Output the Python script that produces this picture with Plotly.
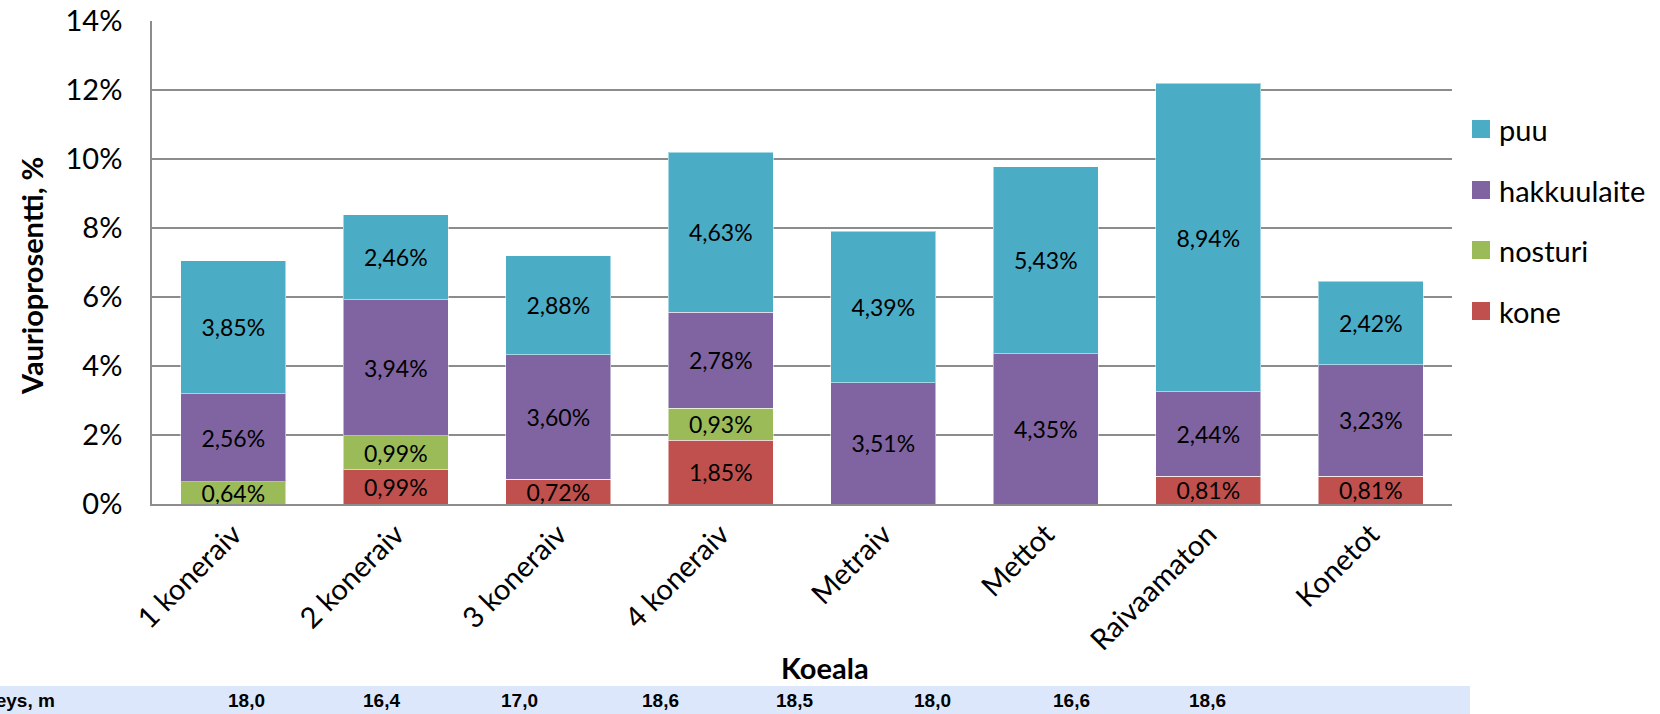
import plotly.graph_objects as go

# Koealat ja vauriot vauriotyypeittäin (%)
categories = ["1 koneraiv", "2 koneraiv", "3 koneraiv", "4 koneraiv",
              "Metraiv", "Mettot", "Raivaamaton", "Konetot"]
kone = [0.00, 0.99, 0.72, 1.85, 0.00, 0.00, 0.81, 0.81]
nosturi = [0.64, 0.99, 0.00, 0.93, 0.00, 0.00, 0.00, 0.00]
hakkuulaite = [2.56, 3.94, 3.60, 2.78, 3.51, 4.35, 2.44, 3.23]
puu = [3.85, 2.46, 2.88, 4.63, 4.39, 5.43, 8.94, 2.42]

series_names = ["kone", "nosturi", "hakkuulaite", "puu"]
series_values = [kone, nosturi, hakkuulaite, puu]
series_colors = ["#C0504D", "#9BBB59", "#8064A2", "#4BACC6"]

y_ticks = [0, 2, 4, 6, 8, 10, 12, 14]
y_tick_labels = ["0%", "2%", "4%", "6%", "8%", "10%", "12%", "14%"]

# Taulukkorivi kaavion alla
table_label = "Leveys, m"
table_values = ["18,0", "16,4", "17,0", "18,6", "18,5", "18,0", "16,6", "18,6"]
table_x_px = [246, 381, 519, 660, 794, 932, 1071, 1207]

W, H = 1660, 714
L, R, T, B = 152, 208, 21, 210
PW = W - L - R
PH = H - T - B


def px_x(px):
    return (px - L) / PW


def px_y(py):
    return (H - B - py) / PH


def fmt(v):
    return f"{v:.2f}%".replace(".", ",") if v > 0 else ""


FONT = "Lato, Calibri, 'Open Sans', sans-serif"
TABLE_FONT = "Liberation Sans, Arial, sans-serif"

fig = go.Figure()
for name, vals, col in zip(series_names, series_values, series_colors):
    fig.add_trace(go.Bar(
        x=categories, y=vals, name=name,
        marker=dict(color=col, line=dict(color="rgba(255,255,255,0.5)", width=1)),
        text=[fmt(v) for v in vals],
        textposition="inside",
        insidetextanchor="middle",
        constraintext="none",
        textangle=0,
        textfont=dict(family=FONT, size=23, color="black"),
        cliponaxis=False,
        showlegend=False,
    ))

shapes = []
annotations = []

# Selite
legend_rows_px = [129, 190, 250, 311]
for name, col, ypx in zip(series_names[::-1], series_colors[::-1], legend_rows_px):
    shapes.append(dict(type="rect", xref="paper", yref="paper",
                       x0=px_x(1472), x1=px_x(1490),
                       y0=px_y(ypx + 9), y1=px_y(ypx - 9),
                       fillcolor=col, line=dict(width=0)))
    annotations.append(dict(xref="paper", yref="paper", x=px_x(1497), y=px_y(ypx),
                            text=name, showarrow=False, xanchor="left", yanchor="middle",
                            font=dict(family=FONT, size=29, color="black")))

# Taulukkorivin tausta ja arvot
shapes.append(dict(type="rect", xref="paper", yref="paper",
                   x0=px_x(0), x1=px_x(1470), y0=px_y(714), y1=px_y(686),
                   fillcolor="#DDE7FB", line=dict(width=0), layer="below"))
annotations.append(dict(xref="paper", yref="paper", x=px_x(57), y=px_y(700),
                        text=f"<b>{table_label}</b>", showarrow=False,
                        xanchor="right", yanchor="middle",
                        font=dict(family=TABLE_FONT, size=19, color="black")))
for v, xp in zip(table_values, table_x_px):
    annotations.append(dict(xref="paper", yref="paper", x=px_x(xp), y=px_y(700),
                            text=f"<b>{v}</b>", showarrow=False,
                            xanchor="center", yanchor="middle",
                            font=dict(family=TABLE_FONT, size=19, color="black")))

# Akselien otsikot
annotations.append(dict(xref="paper", yref="paper", x=px_x(825), y=px_y(667),
                        text="<b>Koeala</b>", showarrow=False,
                        xanchor="center", yanchor="middle",
                        font=dict(family=FONT, size=29, color="black")))
annotations.append(dict(xref="paper", yref="paper", x=px_x(31), y=px_y(276),
                        text="<b>Vaurioprosentti, %</b>", showarrow=False,
                        textangle=-90, xanchor="center", yanchor="middle",
                        font=dict(family=FONT, size=29, color="black")))

fig.update_layout(
    width=W, height=H,
    margin=dict(l=L, r=R, t=T, b=B, pad=0),
    barmode="stack",
    bargap=0.355,
    plot_bgcolor="white",
    paper_bgcolor="white",
    font=dict(family=FONT, color="black"),
    shapes=shapes,
    annotations=annotations,
    xaxis=dict(
        tickangle=-45,
        tickfont=dict(family=FONT, size=29, color="black"),
        showline=True, linecolor="#8C8C8C", linewidth=1.5,
        ticks="", showgrid=False, automargin=False,
    ),
    yaxis=dict(
        range=[0, 14],
        tickvals=y_ticks, ticktext=y_tick_labels,
        tickfont=dict(family=FONT, size=29, color="black"),
        showgrid=True, gridcolor="#8C8C8C", gridwidth=1.5,
        showline=True, linecolor="#8C8C8C", linewidth=1.5,
        ticks="", ticklabelstandoff=22,
        zeroline=False, automargin=False,
    ),
)

fig.write_html("out.html")
